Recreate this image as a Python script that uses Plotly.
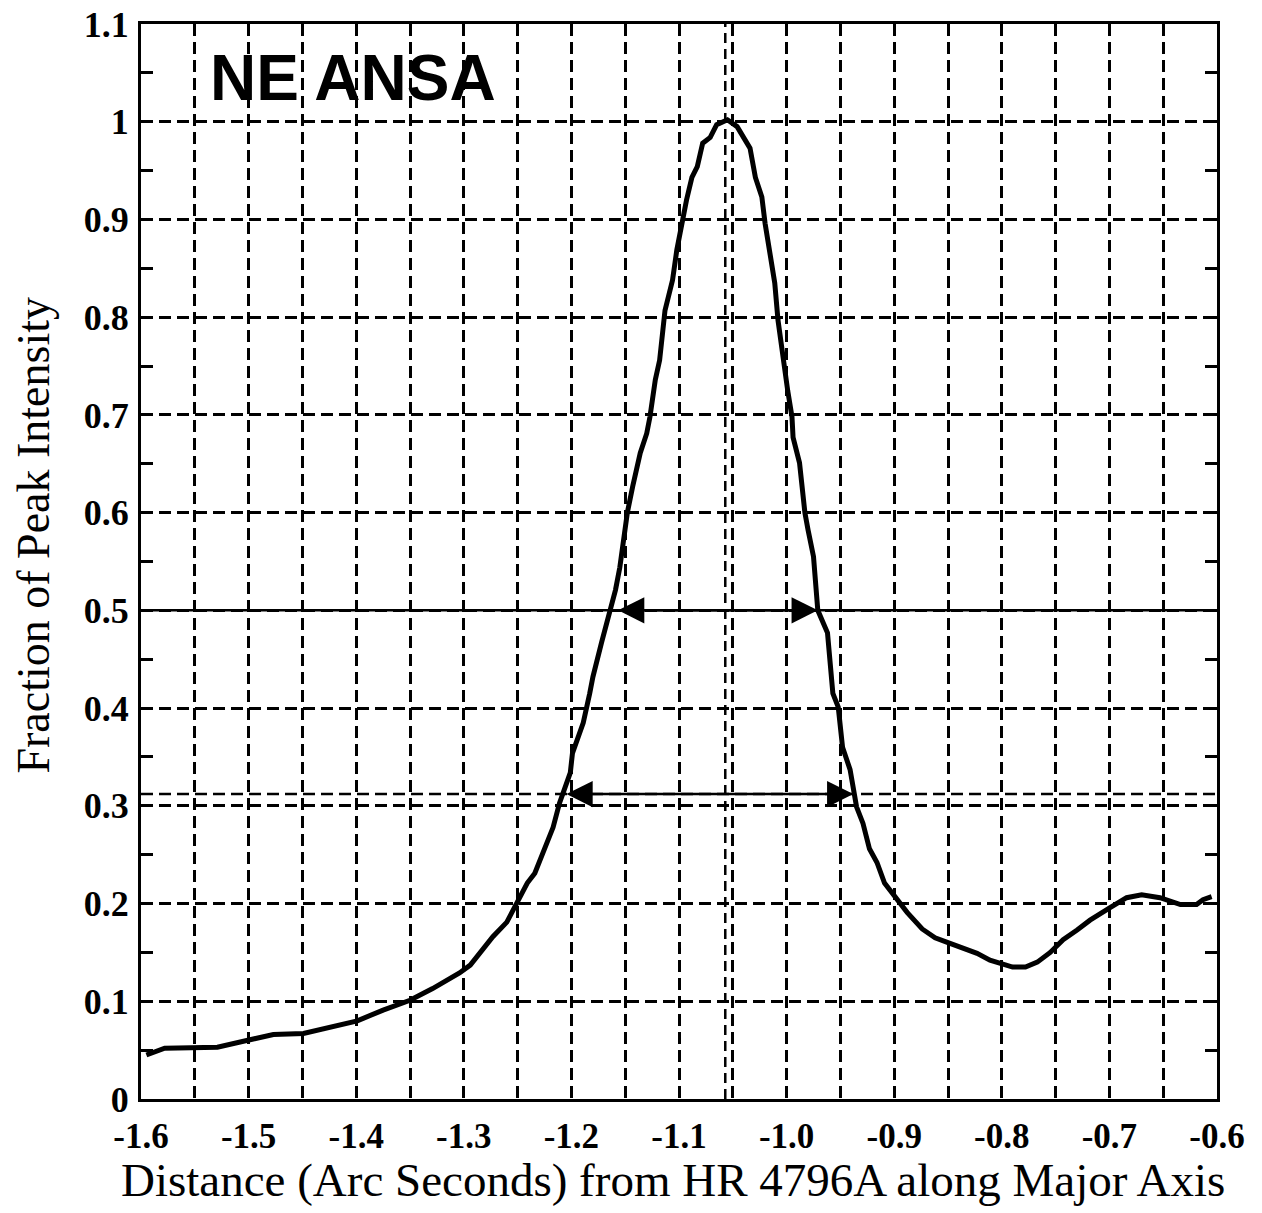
import plotly.graph_objects as go

# ---- data ----
distance = [-1.595, -1.578, -1.529, -1.499, -1.477, -1.449, -1.427, -1.399, -1.375, -1.350,
            -1.329, -1.304, -1.294, -1.285, -1.273, -1.260, -1.251, -1.241, -1.234, -1.226,
            -1.217, -1.211, -1.201, -1.199, -1.189, -1.183, -1.180, -1.172, -1.164, -1.159,
            -1.155, -1.148, -1.143, -1.136, -1.130, -1.127, -1.122, -1.118, -1.113, -1.110,
            -1.106, -1.102, -1.097, -1.093, -1.088, -1.083, -1.078, -1.071, -1.065, -1.060,
            -1.055, -1.046, -1.040, -1.034, -1.029, -1.023, -1.020, -1.015, -1.011, -1.008,
            -1.003, -0.999, -0.995, -0.994, -0.988, -0.983, -0.980, -0.975, -0.971, -0.962,
            -0.957, -0.952, -0.948, -0.941, -0.935, -0.929, -0.923, -0.916, -0.909, -0.899,
            -0.888, -0.874, -0.862, -0.850, -0.839, -0.823, -0.811, -0.800, -0.790, -0.778,
            -0.767, -0.755, -0.743, -0.730, -0.718, -0.699, -0.684, -0.670, -0.653, -0.634,
            -0.619, -0.613, -0.605]
intensity = [0.045, 0.052, 0.053, 0.060, 0.066, 0.067, 0.073, 0.080, 0.091, 0.101,
             0.113, 0.129, 0.137, 0.150, 0.166, 0.181, 0.200, 0.221, 0.231, 0.252,
             0.278, 0.303, 0.334, 0.354, 0.385, 0.415, 0.432, 0.467, 0.498, 0.521,
             0.544, 0.600, 0.627, 0.661, 0.681, 0.698, 0.736, 0.756, 0.807, 0.821,
             0.838, 0.869, 0.899, 0.920, 0.943, 0.954, 0.978, 0.984, 0.997, 1.000,
             1.002, 0.995, 0.983, 0.973, 0.943, 0.923, 0.896, 0.858, 0.835, 0.797,
             0.753, 0.725, 0.698, 0.677, 0.651, 0.600, 0.582, 0.555, 0.500, 0.477,
             0.415, 0.401, 0.360, 0.337, 0.299, 0.282, 0.256, 0.242, 0.221, 0.206,
             0.191, 0.174, 0.165, 0.160, 0.156, 0.149, 0.142, 0.138, 0.135, 0.135,
             0.140, 0.150, 0.163, 0.173, 0.183, 0.196, 0.206, 0.209, 0.206, 0.199,
             0.199, 0.204, 0.207]

peak_position = -1.057
half_level = 0.5
half_left, half_right = -1.158, -0.971
lower_level = 0.312
lower_left, lower_right = -1.206, -0.938

x_tick_vals = [-1.6, -1.5, -1.4, -1.3, -1.2, -1.1, -1.0, -0.9, -0.8, -0.7, -0.6]
x_tick_text = ["-1.6", "-1.5", "-1.4", "-1.3", "-1.2", "-1.1", "-1.0", "-0.9", "-0.8", "-0.7", "-0.6"]
y_tick_vals = [0, 0.1, 0.2, 0.3, 0.4, 0.5, 0.6, 0.7, 0.8, 0.9, 1.0, 1.1]
y_tick_text = ["0", "0.1", "0.2", "0.3", "0.4", "0.5", "0.6", "0.7", "0.8", "0.9", "1", "1.1"]

label_text = "NE ANSA"
x_title = "Distance (Arc Seconds) from HR 4796A along Major Axis"
y_title = "Fraction of Peak Intensity"

SERIF = "Liberation Serif, Times New Roman, serif"
SANS = "Liberation Sans, Arial, sans-serif"
GRID_DASH = "12px,6px"

fig = go.Figure()
fig.add_trace(go.Scatter(x=distance, y=intensity, mode="lines",
                         line=dict(color="black", width=5), showlegend=False,
                         hoverinfo="skip"))

shapes = [
    dict(type="line", xref="paper", yref="y", x0=0, x1=1, y0=half_level, y1=half_level,
         line=dict(color="black", width=2.5)),
    dict(type="line", xref="paper", yref="y", x0=0, x1=1, y0=lower_level, y1=lower_level,
         line=dict(color="black", width=2.5, dash=GRID_DASH)),
    dict(type="line", xref="x", yref="paper", x0=peak_position, x1=peak_position, y0=0, y1=1,
         line=dict(color="black", width=2.5, dash="10px,6px")),
]

annotations = []
for lvl, a, b in [(half_level, half_left, half_right), (lower_level, lower_left, lower_right)]:
    annotations.append(dict(x=b, y=lvl, ax=a, ay=lvl, xref="x", yref="y", axref="x", ayref="y",
                            text="", showarrow=True, arrowhead=2, startarrowhead=2,
                            arrowside="end+start", arrowwidth=2.5, arrowsize=2.1,
                            startarrowsize=2.1, arrowcolor="black", standoff=0, startstandoff=0))
annotations.append(dict(x=0.062, y=0.95, xref="paper", yref="paper", xanchor="left",
                        yanchor="middle", text="<b>" + label_text + "</b>", showarrow=False,
                        font=dict(family=SANS, size=64, color="black")))
annotations.append(dict(x=0.494, y=-0.0753, xref="paper", yref="paper", xanchor="center",
                        yanchor="middle", text=x_title, showarrow=False,
                        font=dict(family=SERIF, size=47, color="black")))
annotations.append(dict(x=-0.0995, y=0.525, xref="paper", yref="paper", xanchor="center",
                        yanchor="middle", text=y_title, showarrow=False, textangle=-90,
                        font=dict(family=SERIF, size=46, color="black")))

# the page body has an 8px margin; margins below compensate for it
fig.update_layout(
    width=1262, height=1213,
    margin=dict(l=133, r=53, t=16, b=122),
    paper_bgcolor="white", plot_bgcolor="white",
    shapes=shapes, annotations=annotations,
    showlegend=False,
)

fig.update_xaxes(
    range=[-1.6, -0.6], tickvals=x_tick_vals, ticktext=["<b>%s</b>" % t for t in x_tick_text],
    tickfont=dict(family=SERIF, size=35, color="black"),
    ticks="", showgrid=True, gridcolor="black", gridwidth=2.5, griddash=GRID_DASH,
    minor=dict(dtick=0.05, tick0=-1.6, showgrid=True, gridcolor="black", gridwidth=2.5,
               griddash=GRID_DASH),
    showline=True, linecolor="black", linewidth=3, mirror=True, zeroline=False,
    ticklabelstandoff=4, automargin=False, ticklabeloverflow="allow",
)
fig.update_yaxes(
    range=[0, 1.1], tickvals=y_tick_vals, ticktext=["<b>%s</b>" % t for t in y_tick_text],
    tickfont=dict(family=SERIF, size=36, color="black"),
    ticks="inside", ticklen=12, tickwidth=2.5, tickcolor="black",
    showgrid=True, gridcolor="black", gridwidth=2.5, griddash=GRID_DASH,
    minor=dict(dtick=0.05, tick0=0, ticks="inside", ticklen=12, tickwidth=2.5,
               tickcolor="black", showgrid=False),
    showline=True, linecolor="black", linewidth=3, mirror="ticks", zeroline=False,
    ticklabelstandoff=2, automargin=False, ticklabeloverflow="allow",
)

fig.write_html("out.html")
